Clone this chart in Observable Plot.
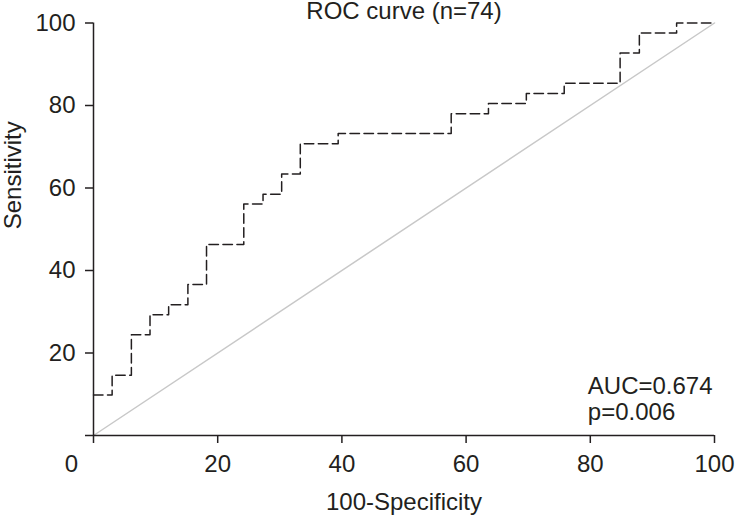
<!DOCTYPE html>
<html>
<head>
<meta charset="utf-8">
<script src="https://cdn.jsdelivr.net/npm/d3@7"></script>
<script src="https://cdn.jsdelivr.net/npm/@observablehq/plot@0.6"></script>
<style>
  html, body { margin: 0; padding: 0; background: #fff; }
</style>
</head>
<body>
<div id="chart"></div>
<script>
// ROC curve corner points (100-Specificity, Sensitivity)
const fpr = [0, 3.0, 6.1, 9.1, 12.1, 15.2, 18.2, 24.2, 27.3, 30.3, 33.3, 39.4, 57.6, 63.6, 69.7, 75.8, 84.8, 87.9, 93.9, 100];
const tpr = [9.8, 14.6, 24.4, 29.3, 31.7, 36.6, 46.3, 56.1, 58.5, 63.4, 70.7, 73.2, 78.0, 80.5, 82.9, 85.4, 92.7, 97.6, 100, 100];
// reference (chance) line
const chanceX = [0, 100];
const chanceY = [0, 100];
// ticks
const xTicks = [0, 20, 40, 60, 80, 100];
const yTicks = [0, 20, 40, 60, 80, 100];
const titleText = "ROC curve (n=74)";
const xLabel = "100-Specificity";
const yLabel = "Sensitivity";
const annotation = ["AUC=0.674", "p=0.006"];

const roc = fpr.map((x, i) => ({x, y: tpr[i]}));
const chance = chanceX.map((x, i) => ({x, y: chanceY[i]}));
const ink = "#231f20";

const chart = Plot.plot({
  width: 735,
  height: 515,
  marginLeft: 93,
  marginRight: 21,
  marginTop: 22.5,
  marginBottom: 80,
  style: {fontFamily: "'Liberation Sans', Arial, Helvetica, sans-serif", fontSize: "24px", color: ink, background: "#fff"},
  x: {domain: [0, 100]},
  y: {domain: [0, 100]},
  marks: [
    Plot.line(chance, {x: "x", y: "y", stroke: "#c8c8c8", strokeWidth: 1.5}),
    Plot.line(roc, {x: "x", y: "y", curve: "step-after", stroke: ink, strokeWidth: 1.5, strokeDasharray: "9.5,4.5"}),
    Plot.ruleY([0], {stroke: ink, strokeWidth: 1.5}),
    Plot.ruleX([0], {stroke: ink, strokeWidth: 1.5}),
    Plot.axisX(xTicks, {tickSize: 8, tickPadding: 11, strokeWidth: 1.5, fontSize: 24, tickFormat: d => d === 0 ? "" : String(d), label: null}),
    Plot.axisX([0], {tickSize: 0, tickPadding: 19, dx: -22, fontSize: 24, tickFormat: d => String(d), label: null}),
    Plot.axisY(yTicks, {tickSize: 8, tickPadding: 10, strokeWidth: 1.5, fontSize: 24, tickFormat: d => d === 0 ? "" : String(d), label: null}),
    Plot.text([titleText], {frameAnchor: "top", lineAnchor: "bottom", dy: -4.5, fontSize: 24, fill: ink}),
    Plot.text([xLabel], {frameAnchor: "bottom", lineAnchor: "bottom", dy: 74, fontSize: 24, fill: ink}),
    Plot.text([yLabel], {frameAnchor: "left", lineAnchor: "bottom", rotate: -90, dx: -73, fontSize: 24, fill: ink}),
    Plot.text([annotation.join("\n")], {x: () => 79.6, frameAnchor: "bottom", textAnchor: "start", lineAnchor: "bottom", lineHeight: 1.083, dy: -15.7, fontSize: 24, fill: ink})
  ]
});
document.getElementById("chart").appendChild(chart);
</script>
</body>
</html>
